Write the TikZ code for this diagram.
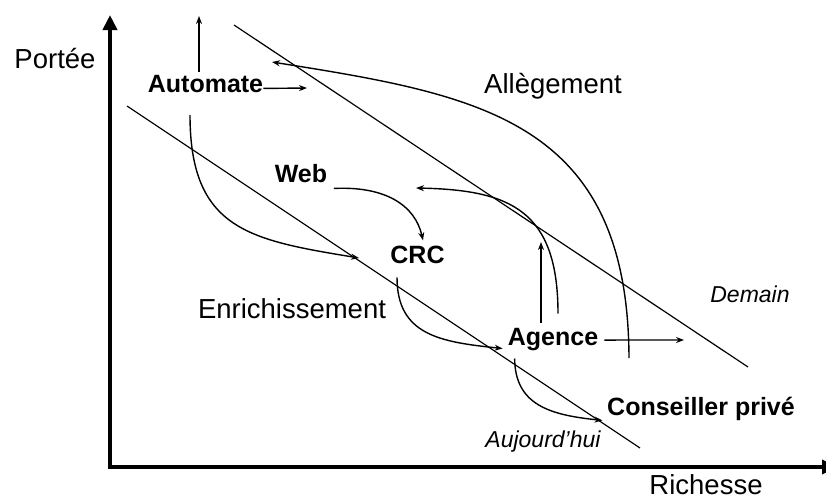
\documentclass[tikz,border=0pt]{standalone}
\usepackage{fontspec}
\setmainfont{Liberation Sans}
\usepackage{tikz}
\usetikzlibrary{arrows.meta}
\tikzset{>={Stealth[length=8pt,width=6pt]},
         fleche/.style={->, line width=1.4pt},
         droite/.style={line width=1.2pt},
         axe/.style={line width=4pt,
           arrows={Triangle[length=15pt,width=14pt]-Triangle[length=15pt,width=14pt]}},
         canal/.style={font=\bfseries\fontsize{25}{30}\selectfont, inner sep=0pt, anchor=base},
         titre/.style={font=\fontsize{27.5}{33}\selectfont, inner sep=0pt, anchor=base},
         date/.style={font=\itshape\fontsize{23}{28}\selectfont, inner sep=0pt, anchor=base}}

\begin{document}
\begin{tikzpicture}[x=1pt,y=-1pt]
	  \useasboundingbox (0,0) rectangle (826,501);
	  \coordinate (yhaut) at (110,15);
	  \coordinate (xfin) at (837,467);
	  \draw[axe] (yhaut) |- (xfin);
	  \node[titre] (portee) at (55,68) {Portée};
	  \node[titre] (richesse) at (706,494) {Richesse};
	  % les deux frontieres
	  \coordinate (aujA) at (127,106);
	  \coordinate (aujB) at (640,448);
	  \coordinate (demA) at (234,25);
	  \coordinate (demB) at (748,367);
	  \draw[droite] (aujA) -- (aujB);
	  \draw[droite] (demA) -- (demB);
	  \node[date] (aujourdhui) at (543,447) {Aujourd’hui};
	  \node[date] (demain) at (750,302) {Demain};
	  \node[titre] (allegement) at (553,93) {Allègement};
	  \node[titre] (enrichissement) at (292,318) {Enrichissement};
	  % les canaux
	  \node[canal] (automate) at (205.5,92) {Automate};
	  \node[canal] (web) at (301,182) {Web};
	  \node[canal] (crc) at (417.5,263) {CRC};
	  \node[canal] (agence) at (553,345) {Agence};
	  \node[canal] (conseiller) at (701,415) {Conseiller privé};
	  \coordinate (autohaut) at (199,16);
	  \coordinate (autodroite) at (307,88);
	  \coordinate (autobas) at (190,115);
	  \coordinate (autofin) at (359,258);
	  \coordinate (agencehaut) at (541,242);
	  \coordinate (agencefin) at (416,188);
	  \coordinate (agencedroite) at (684,340);
	  \coordinate (grandbas) at (629,358);
	  \coordinate (grandfin) at (272,62);
	  \draw[fleche] ([xshift=-6.5pt,yshift=3pt]automate.north) -- (autohaut);
	  \draw[fleche] ([yshift=4pt]automate.south east) -- (autodroite);
	  \draw[fleche] (autobas) .. controls (190,230) and (250,240) .. (autofin);
	  \draw[fleche] ([xshift=6.6pt,yshift=-6pt]web.south east)
	    .. controls (385,186) and (415,205) .. ([xshift=5.5pt,yshift=5pt]crc.north);
	  \draw[fleche] ([xshift=-20.5pt,yshift=-14pt]crc.south)
	    .. controls (397,335) and (440,342) .. ([xshift=-5pt,yshift=2pt]agence.south west);
	  \draw[fleche] ([xshift=-12pt,yshift=5pt]agence.north) -- (agencehaut);
	  \draw[fleche] ([xshift=5pt,yshift=14pt]agence.north)
	    .. controls (558,210) and (510,190) .. (agencefin);
	  \draw[fleche] ([xshift=6pt,yshift=-1pt]agence.east) -- (agencedroite);
	  \draw[fleche] ([xshift=7pt,yshift=-8pt]agence.south west)
	    .. controls (515,405) and (550,415) .. ([xshift=-4.5pt]conseiller.south west);
	  \draw[fleche] (grandbas) .. controls (628,120) and (480,95) .. (grandfin);
	\end{tikzpicture}
\end{document}
